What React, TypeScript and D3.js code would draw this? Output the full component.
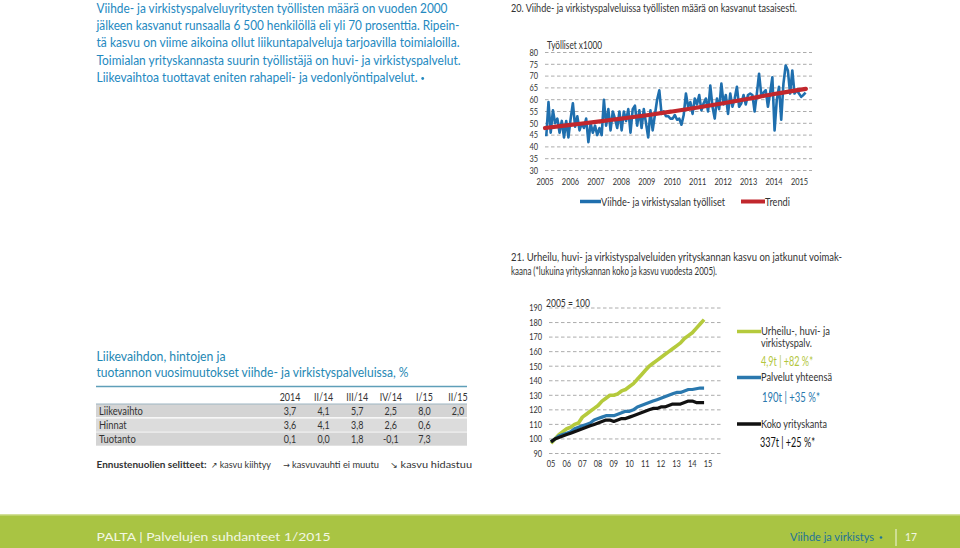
import React from "react";
import * as d3 from "d3";

const FONT = "Lato, 'Open Sans', 'DejaVu Sans', sans-serif";
const TEAL = "#2489bf";
const DARK = "#333333";

// ---------- intro text ----------
const introLines = [
  "Viihde- ja virkistyspalveluyritysten työllisten määrä on vuoden 2000",
  "jälkeen kasvanut runsaalla 6 500 henkilöllä eli yli 70 prosenttia. Ripein-",
  "tä kasvu on viime aikoina ollut liikuntapalveluja tarjoavilla toimialoilla.",
  "Toimialan yrityskannasta suurin työllistäjä on huvi- ja virkistyspalvelut.",
  "Liikevaihtoa tuottavat eniten rahapeli- ja vedonlyöntipalvelut.",
];
const introWidths = [351, 363, 363, 364, 321];

// ---------- chart 20 ----------
const chart1Title = "20. Viihde- ja virkistyspalveluissa työllisten määrä on kasvanut tasaisesti.";
const chart1Unit = "Työlliset x1000";
const chart1YTicks = [30, 35, 40, 45, 50, 55, 60, 65, 70, 75, 80];
const chart1XTicks = [2005, 2006, 2007, 2008, 2009, 2010, 2011, 2012, 2013, 2014, 2015];
const employedStart = 2005.05;
const employedEnd = 2015.24;
const employed = [
  44.5, 59, 46, 55.5, 50, 52, 46, 51, 44, 51, 44, 52,
  58.5, 48.6, 53, 47, 50, 48, 52, 42, 50, 46, 49, 45,
  48, 45, 60, 49, 56, 47, 55, 52, 48, 55, 47, 55,
  51, 56, 46, 56, 57.5, 49, 55.5, 48, 56, 50, 44, 55.5,
  47, 53.5, 60, 64, 54, 55, 53, 53, 52, 52, 53.5,
  51.5, 52, 49.4, 53.5, 62.6, 57, 59, 54, 60.5, 58, 62, 55.5,
  58.5, 60.5, 55, 66, 57, 52, 60.5, 56, 66.8, 58, 62, 54,
  62.6, 57, 60.5, 65.5, 57, 58.5, 62, 58, 62, 62.6, 62, 55,
  62.6, 71, 62, 63, 64, 57, 63, 69.5, 47, 60, 65.5, 51.5,
  66.8, 74.5, 72.4, 62.6, 72.4, 62.6, 64, 62.6, 61.2, 62, 63,
];
const trendYears = [2005, 2006, 2007, 2008, 2009, 2010, 2011, 2012, 2013, 2014, 2015.25];
const trendValues = [48, 49.3, 50.6, 52, 53.4, 55, 56.7, 58.5, 60.4, 62.4, 64.6];
const chart1Legend = ["Viihde- ja virkistysalan työlliset", "Trendi"];

// ---------- chart 21 ----------
const chart2Title = [
  "21. Urheilu, huvi- ja virkistyspalveluiden yrityskannan kasvu on jatkunut voimak-",
  "kaana (*lukuina yrityskannan koko ja kasvu vuodesta 2005).",
];
const chart2Unit = "2005 = 100";
const chart2YTicks = [90, 100, 110, 120, 130, 140, 150, 160, 170, 180, 190];
const chart2XTicks = [2005, 2006, 2007, 2008, 2009, 2010, 2011, 2012, 2013, 2014, 2015];
const quarterStart = 2005;
const quarterStep = 0.25;
const sportsIndex = [
  97, 100, 103, 105, 107, 108, 110, 111, 115, 117, 119, 121,
  123, 126, 128, 130, 130, 131, 133, 134, 136, 138, 141, 144,
  147, 150, 152, 154, 156, 158, 160, 162, 164, 166, 169, 171,
  173, 176, 179, 182,
];
const servicesIndex = [
  98, 100, 102, 103, 104, 105, 107, 108, 109, 110, 111, 113,
  114, 115, 116, 116, 116, 117, 118, 119, 119, 120, 122, 123,
  124, 125, 126, 127, 128, 129, 130, 131, 132, 132, 133, 134,
  134, 134.5, 135, 135,
];
const allIndex = [
  98, 100, 101, 102, 103, 104, 105, 106, 107, 108, 109, 110,
  111, 112, 113, 113, 112, 113, 114, 114, 115, 116, 117, 118,
  119, 120, 121, 121, 122, 122, 123, 124, 124, 124, 125, 126,
  126, 125, 125, 125,
];
const chart2LegendNames = [["Urheilu-, huvi- ja", "virkistyspalv."], ["Palvelut yhteensä"], ["Koko yrityskanta"]];
const chart2LegendStats = ["4,9t | +82 %*", "190t | +35 %*", "337t | +25 %*"];

// ---------- table ----------
const tableTitle = ["Liikevaihdon, hintojen ja", "tuotannon vuosimuutokset viihde- ja virkistyspalveluissa, %"];
const tableColumns = ["2014", "II/14", "III/14", "IV/14", "I/15", "II/15"];
const tableRowNames = ["Liikevaihto", "Hinnat", "Tuotanto"];
const turnover = [3.7, 4.1, 5.7, 2.5, 8.0, 2.0];
const prices = [3.6, 4.1, 3.8, 2.6, 0.6, null];
const production = [0.1, 0.0, 1.8, -0.1, 7.3, null];
const arrowLegendLabel = "Ennustenuolien selitteet:";
const arrowGlyphs = ["↗", "→", "↘"];
const arrowTexts = ["kasvu kiihtyy", "kasvuvauhti ei muutu", "kasvu hidastuu"];

// ---------- footer ----------
const footerLeft = "PALTA | Palvelujen suhdanteet 1/2015";
const footerSection = "Viihde ja virkistys";
const footerPage = "17";

type TP = {
  x: number; y: number; w?: number; size?: number; color?: string;
  anchor?: "start" | "middle" | "end"; weight?: number | string; family?: string; children: React.ReactNode;
};
function T({ x, y, w, size = 11, color = DARK, anchor = "start", weight = 400, family, children }: TP) {
  const extra: any = w ? { textLength: w, lengthAdjust: "spacingAndGlyphs" } : {};
  return (
    <text x={x} y={y} fontSize={size} fill={color} textAnchor={anchor} fontWeight={weight} fontFamily={family} {...extra}>
      {children}
    </text>
  );
}
// condensed text via horizontal scale
function C({ x, y, sx = 0.78, size = 9.5, color = DARK, anchor = "start", children }: any) {
  return (
    <text transform={`translate(${x},${y}) scale(${sx},1)`} fontSize={size} fill={color} textAnchor={anchor}>
      {children}
    </text>
  );
}

const fmt = (v: number | null) => (v === null ? "" : d3.format(".1f")(v).replace("−", "-").replace(".", ","));

export default function App() {
  // chart 1 scales
  const x1 = d3.scaleLinear().domain([2005, 2015]).range([545, 799.5]);
  const y1 = d3.scaleLinear().domain([30, 80]).range([170.5, 52.5]);
  const empTimes = employed.map((_, i) => employedStart + (i * (employedEnd - employedStart)) / (employed.length - 1));
  const empLine = d3.line<number>().x((_, i) => x1(empTimes[i])).y((d) => y1(d))(employed) || "";
  const trendLine =
    d3.line<number>().x((_, i) => x1(trendYears[i])).y((d) => y1(d)).curve(d3.curveMonotoneX)(trendValues) || "";

  // chart 2 scales
  const x2 = d3.scaleLinear().domain([2005, 2015]).range([551, 708]);
  const y2 = d3.scaleLinear().domain([90, 190]).range([453.5, 308]);
  const q = (i: number) => quarterStart + i * quarterStep;
  const line2 = (arr: number[]) => d3.line<number>().x((_, i) => x2(q(i))).y((d) => y2(d))(arr) || "";
  const series2 = [
    { data: sportsIndex, color: "#b5ca3c", width: 3.6 },
    { data: servicesIndex, color: "#2a78ae", width: 3.2 },
    { data: allIndex, color: "#111111", width: 3.2 },
  ];

  // table
  const colX = d3.scalePoint<string>().domain(tableColumns).range([290, 458]);
  const rowData = [turnover, prices, production];
  const rowY = [411, 425.5, 439.5];

  // arrow legend layout: start x and total width of each "arrow + text" item
  const arrowItemX = [211, 283, 390];
  const arrowItemW = [60, 96, 82];

  return (
    <svg
      width={960}
      height={548}
      style={{ position: "absolute", left: 0, top: 0, background: "#ffffff" }}
      fontFamily={FONT}
    >
      <rect x={0} y={0} width={960} height={548} fill="#ffffff" />

      {/* intro */}
      {introLines.map((l, i) => (
        <T key={i} x={96.5} y={12.5 + i * 17.4} w={introWidths[i]} size={12.5} color={TEAL}>
          {l}
        </T>
      ))}
      <circle cx={422.7} cy={78.5} r={1.4} fill={TEAL} />

      {/* ---------- chart 20 ---------- */}
      <T x={511} y={11.5} w={286} size={10.5} color={DARK}>{chart1Title}</T>
      <T x={547} y={48.5} w={55} size={10.5} color={DARK}>{chart1Unit}</T>
      {chart1YTicks.map((t) => (
        <g key={t}>
          <line x1={545} x2={812} y1={y1(t)} y2={y1(t)} stroke="#a3a3a3" strokeWidth={0.9} strokeDasharray="3.5 2.5" />
          <C x={538} y={y1(t) + 3.3} anchor="end">{t}</C>
        </g>
      ))}
      {chart1XTicks.map((t) => (
        <C key={t} x={x1(t)} y={184.5} anchor="middle">{t}</C>
      ))}
      <path d={empLine} fill="none" stroke="#1f6fae" strokeWidth={2.6} strokeLinejoin="round" />
      <path d={trendLine} fill="none" stroke="#c1272d" strokeWidth={4.2} strokeLinecap="round" />
      <line x1={580} x2={601} y1={201.5} y2={201.5} stroke="#1f6fae" strokeWidth={3.5} />
      <T x={601} y={205.5} w={124} size={11} color={DARK}>{chart1Legend[0]}</T>
      <line x1={741} x2={765} y1={201.5} y2={201.5} stroke="#c1272d" strokeWidth={4} />
      <T x={765} y={205.5} w={25} size={11} color={DARK}>{chart1Legend[1]}</T>

      {/* ---------- chart 21 ---------- */}
      <T x={511} y={261} w={331} size={10.5} color={DARK}>{chart2Title[0]}</T>
      <T x={511} y={275} w={206} size={10.5} color={DARK}>{chart2Title[1]}</T>
      <T x={546} y={306.5} w={44} size={10.5} color={DARK}>{chart2Unit}</T>
      {chart2YTicks.map((t) => (
        <g key={t}>
          <line x1={549} x2={721} y1={y2(t)} y2={y2(t)} stroke="#a3a3a3" strokeWidth={0.9} strokeDasharray="3.5 2.5" />
          <C x={542} y={y2(t) + 3.3} anchor="end">{t}</C>
        </g>
      ))}
      {chart2XTicks.map((t) => (
        <C key={t} x={x2(t)} y={467} anchor="middle">{String(t).slice(2)}</C>
      ))}
      {series2.map((s, i) => (
        <path key={i} d={line2(s.data)} fill="none" stroke={s.color} strokeWidth={s.width} strokeLinejoin="round" />
      ))}
      {/* legend 21 */}
      <line x1={737} x2={761} y1={331.5} y2={331.5} stroke="#b5ca3c" strokeWidth={3.5} />
      <T x={761} y={335.3} w={69} size={10.5} color={DARK}>{chart2LegendNames[0][0]}</T>
      <T x={761} y={347} w={51} size={10.5} color={DARK}>{chart2LegendNames[0][1]}</T>
      <T x={761} y={366} w={52} size={12.5} color="#b2c63c">{chart2LegendStats[0]}</T>
      <line x1={737} x2={761} y1={377.5} y2={377.5} stroke="#2a78ae" strokeWidth={3.5} />
      <T x={761} y={381.3} w={71} size={10.5} color={DARK}>{chart2LegendNames[1][0]}</T>
      <T x={762} y={401.5} w={58} size={12.5} color="#2a78ae">{chart2LegendStats[1]}</T>
      <line x1={737} x2={761} y1={424} y2={424} stroke="#111111" strokeWidth={3.5} />
      <T x={761} y={427.8} w={66} size={10.5} color={DARK}>{chart2LegendNames[2][0]}</T>
      <T x={760} y={446.5} w={55} size={12.5} color="#111111">{chart2LegendStats[2]}</T>

      {/* ---------- table ---------- */}
      <T x={96.5} y={361} w={129} size={12.5} color="#1f88b4">{tableTitle[0]}</T>
      <T x={96.5} y={376.5} w={312} size={12.5} color="#1f88b4">{tableTitle[1]}</T>
      <line x1={96} x2={467} y1={386.5} y2={386.5} stroke="#5f9fb9" strokeWidth={1.5} />
      {tableColumns.map((c) => (
        <C key={c} x={colX(c)!} y={400.5} anchor="middle" sx={0.85} size={10.5}>{c}</C>
      ))}
      {rowY.map((ry, i) => (
        <rect key={i} x={96} y={ry - 7} width={371} height={13.2} fill={i === 1 ? "#dcdcdc" : "#d4d4d4"} />
      ))}
      <line x1={96} x2={467} y1={404} y2={404} stroke="#9db5c2" strokeWidth={1} />
      {tableRowNames.map((n, i) => (
        <g key={n}>
          <C x={99} y={rowY[i] + 3.6} sx={0.85} size={11}>{n}</C>
          {rowData[i].map((v, j) => (
            <C key={j} x={colX(tableColumns[j])!} y={rowY[i] + 3.6} anchor="middle" sx={0.85} size={10.5}>
              {fmt(v)}
            </C>
          ))}
        </g>
      ))}
      <T x={96.5} y={468} w={110} size={9.5} weight={700} color={DARK}>{arrowLegendLabel}</T>
      {arrowGlyphs.map((g, i) => (
        <text
          key={g}
          x={arrowItemX[i]}
          y={468}
          fontSize={10}
          fill={DARK}
          textLength={arrowItemW[i]}
          lengthAdjust="spacingAndGlyphs"
        >
          <tspan fontFamily="'DejaVu Sans', sans-serif" fontSize={8.5}>{g}</tspan>
          {" " + arrowTexts[i]}
        </text>
      ))}

      {/* ---------- footer ---------- */}
      <rect x={0} y={514} width={960} height={34} fill="#a9c443" />
      <rect x={0} y={514} width={960} height={1.5} fill="#d3e09a" />
      <T x={96.5} y={541} w={234} size={11.5} color="#f3f7e4">{footerLeft}</T>
      <T x={790} y={541} w={84} size={11.5} color="#1e7398">{footerSection}</T>
      <circle cx={881} cy={537.5} r={1.3} fill="#1e7398" />
      <line x1={896} x2={896} y1={529} y2={546} stroke="#f3f7e4" strokeWidth={1} />
      <T x={905} y={541} w={12} size={11.5} color="#f3f7e4">{footerPage}</T>
    </svg>
  );
}
